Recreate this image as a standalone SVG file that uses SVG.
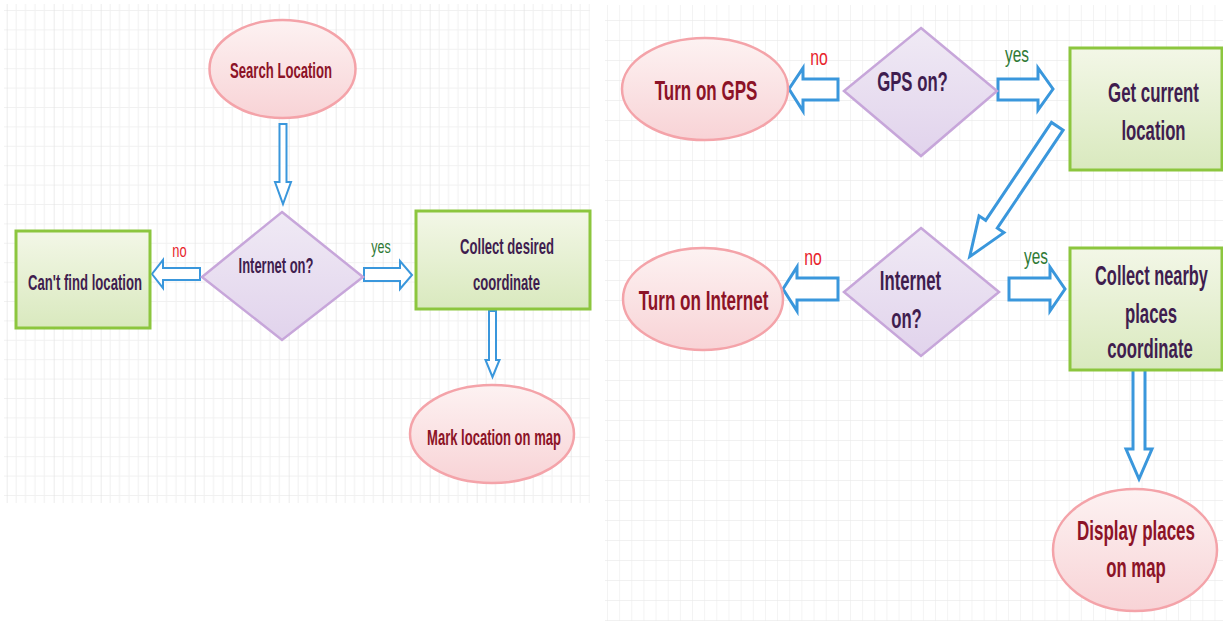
<svg xmlns="http://www.w3.org/2000/svg" width="1223" height="621" viewBox="0 0 1223 621">
  <defs>
    <!-- left sheet grid: 9.4 x 19.4 cells, heavier line every 5 columns -->
    <pattern id="gridL" patternUnits="userSpaceOnUse" x="6.7" y="10" width="47" height="19.4">
      <line x1="0" y1="0" x2="47" y2="0" stroke="#ececec" stroke-width="1.6"/>
      <line x1="9.4" y1="0" x2="9.4" y2="19.4" stroke="#f0f0f0" stroke-width="1"/>
      <line x1="18.8" y1="0" x2="18.8" y2="19.4" stroke="#f0f0f0" stroke-width="1"/>
      <line x1="28.2" y1="0" x2="28.2" y2="19.4" stroke="#f0f0f0" stroke-width="1"/>
      <line x1="37.6" y1="0" x2="37.6" y2="19.4" stroke="#f0f0f0" stroke-width="1"/>
      <line x1="0" y1="0" x2="0" y2="19.4" stroke="#e0e0e0" stroke-width="1.2"/>
    </pattern>
    <!-- right sheet grid: 12.15 x 20 cells -->
    <pattern id="gridR" patternUnits="userSpaceOnUse" x="607" y="0" width="12.15" height="20">
      <line x1="0" y1="0" x2="12.15" y2="0" stroke="#ebebeb" stroke-width="1.4"/>
      <line x1="0" y1="0" x2="0" y2="20" stroke="#ebebeb" stroke-width="1.1"/>
    </pattern>
    <linearGradient id="gEll" x1="0" y1="0" x2="0" y2="1">
      <stop offset="0" stop-color="#fdf2f2"/>
      <stop offset="1" stop-color="#f8d3d6"/>
    </linearGradient>
    <linearGradient id="gRect" x1="0" y1="0" x2="0" y2="1">
      <stop offset="0" stop-color="#f3f7e7"/>
      <stop offset="1" stop-color="#d9e9be"/>
    </linearGradient>
    <linearGradient id="gDia" x1="0" y1="0" x2="0" y2="1">
      <stop offset="0" stop-color="#f0eaf5"/>
      <stop offset="1" stop-color="#e1d3ec"/>
    </linearGradient>
  </defs>
  <style>
    .ell { fill: url(#gEll); stroke: #f4a3a9; stroke-width: 2.5; }
    .box { fill: url(#gRect); stroke: #8cc63e; stroke-width: 3; }
    .dia { fill: url(#gDia); stroke: #c7a6da; stroke-width: 2.5; }
    .arr { fill: #ffffff; stroke: #3a97dc; stroke-linejoin: miter; }
    .thin { stroke-width: 2; }
    .thick { stroke-width: 3; }
    text { font-family: "Liberation Sans", Arial, sans-serif; text-anchor: middle; }
    .tE { fill: #8c1327; font-weight: bold; }
    .tN { fill: #3f1d4f; font-weight: bold; }
    .s22 { font-size: 22px; }
    .s27 { font-size: 27px; }
    .no { fill: #e8232b; }
    .yes { fill: #2f7a35; }
  </style>

  <rect x="0" y="0" width="1223" height="621" fill="#ffffff"/>

  <g id="grid">
    <rect x="4" y="4" width="586" height="499" fill="url(#gridL)"/>
    <rect x="605" y="5" width="618" height="616" fill="url(#gridR)"/>
  </g>

  <g id="connectors">
    <!-- left flow -->
    <polygon class="arr thin" points="279.5,124 286.5,124 286.5,182 291,182 283,204 275,182 279.5,182"/>
    <polygon class="arr thin" points="200,268 163,268 163,260 152,274 163,288 163,280 200,280"/>
    <polygon class="arr thin" points="364,268 400,268 400,261 412,275 400,289 400,281 364,281"/>
    <polygon class="arr thin" points="489,311 496,311 496,360 499.5,360 492.5,377 485.5,360 489,360"/>
    <!-- right flow -->
    <polygon class="arr thick" points="838,79 803,79 803,68 789,89 803,111 803,100 838,100"/>
    <polygon class="arr thick" points="998,79 1038,79 1038,68 1053,89 1038,110 1038,100 998,100"/>
    <polygon class="arr thick" points="0,-7 118,-7 118,-15 157,0 118,15 118,7 0,7" transform="translate(1057.3,126.3) rotate(123.9)"/>
    <polygon class="arr thick" points="838,278 797,278 797,267 783,289 797,311 797,300 838,300"/>
    <polygon class="arr thick" points="1009,278 1050,278 1050,267 1065,289 1050,311 1050,300 1009,300"/>
    <polygon class="arr thick" points="1133,368 1145,368 1145,449 1152,449 1139,479 1126,449 1133,449"/>
    <!-- branch labels (condensed type) -->
    <text class="no" font-size="19" transform="translate(179.5,257) scale(0.68,1)">no</text>
    <text class="yes" font-size="19" transform="translate(381,253) scale(0.66,1)">yes</text>
    <text class="no" font-size="22" transform="translate(819,65) scale(0.72,1)">no</text>
    <text class="yes" font-size="22" transform="translate(1017,62) scale(0.7,1)">yes</text>
    <text class="no" font-size="22" transform="translate(813,265) scale(0.72,1)">no</text>
    <text class="yes" font-size="22" transform="translate(1036,264) scale(0.7,1)">yes</text>
  </g>

  <!-- left flow nodes -->
  <g id="search-location">
    <ellipse class="ell" cx="282.5" cy="69" rx="73" ry="49"/>
    <text class="tE s22" transform="translate(281,78) scale(0.596,1)">Search Location</text>
  </g>
  <g id="internet-on-left">
    <polygon class="dia" points="282,212 363,277 282,340 202,277"/>
    <text class="tN s22" transform="translate(276,273) scale(0.59,1)">Internet on?</text>
  </g>
  <g id="cant-find-location">
    <rect class="box" x="16" y="231" width="134" height="97"/>
    <text class="tN s22" transform="translate(85,290) scale(0.597,1)">Can't find location</text>
  </g>
  <g id="collect-desired">
    <rect class="box" x="416" y="211" width="174" height="98"/>
    <text class="tN s22" transform="translate(507,254) scale(0.596,1)">Collect desired</text>
    <text class="tN s22" transform="translate(506.5,290) scale(0.596,1)">coordinate</text>
  </g>
  <g id="mark-location">
    <ellipse class="ell" cx="492" cy="434" rx="82" ry="49"/>
    <text class="tE s22" transform="translate(494,445) scale(0.592,1)">Mark location on map</text>
  </g>

  <!-- right flow nodes -->
  <g id="turn-on-gps">
    <ellipse class="ell" cx="705" cy="89" rx="83" ry="51"/>
    <text class="tE s27" transform="translate(706,100) scale(0.63,1)">Turn on GPS</text>
  </g>
  <g id="gps-on">
    <polygon class="dia" points="921,28 997,91 921,156 844,91"/>
    <text class="tN s27" transform="translate(912.5,91) scale(0.62,1)">GPS on?</text>
  </g>
  <g id="get-current-location">
    <rect class="box" x="1070" y="48" width="152" height="122"/>
    <text class="tN s27" transform="translate(1153.5,102) scale(0.625,1)">Get current</text>
    <text class="tN s27" transform="translate(1153.5,140) scale(0.62,1)">location</text>
  </g>
  <g id="turn-on-internet">
    <ellipse class="ell" cx="703" cy="299" rx="80" ry="51"/>
    <text class="tE s27" transform="translate(703.5,310) scale(0.633,1)">Turn on Internet</text>
  </g>
  <g id="internet-on-right">
    <polygon class="dia" points="921,228 999,292 921,356 844,292"/>
    <text class="tN s27" transform="translate(910.5,290) scale(0.62,1)">Internet</text>
    <text class="tN s27" transform="translate(906.5,328) scale(0.62,1)">on?</text>
  </g>
  <g id="collect-nearby">
    <rect class="box" x="1070" y="248" width="152" height="122"/>
    <text class="tN s27" transform="translate(1151.5,285) scale(0.607,1)">Collect nearby</text>
    <text class="tN s27" transform="translate(1151,323) scale(0.62,1)">places</text>
    <text class="tN s27" transform="translate(1150,358) scale(0.62,1)">coordinate</text>
  </g>
  <g id="display-places">
    <ellipse class="ell" cx="1135" cy="550" rx="82" ry="61"/>
    <text class="tE s27" transform="translate(1136,540) scale(0.629,1)">Display places</text>
    <text class="tE s27" transform="translate(1136,577) scale(0.62,1)">on map</text>
  </g>
</svg>
